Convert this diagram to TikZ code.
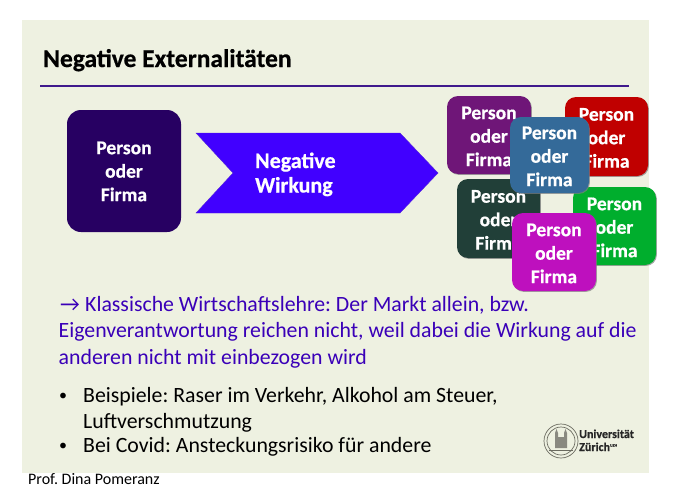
\documentclass[tikz,border=0pt]{standalone}
\usepackage{fontspec}
\setmainfont{Carlito}[BoldFeatures={FakeBold=0.6}]
\usetikzlibrary{shadows}
\definecolor{SlideBack}{HTML}{EEF1E1}
\definecolor{SlideRule}{HTML}{3F1A8C}
\definecolor{SlideText}{HTML}{3A00B8}
\definecolor{BoxNavy}{HTML}{270062}
\definecolor{BoxArrow}{HTML}{4100FF}
\definecolor{BoxPurple}{HTML}{6F1678}
\definecolor{BoxRed}{HTML}{C00000}
\definecolor{BoxBlue}{HTML}{346A99}
\definecolor{BoxDark}{HTML}{213F38}
\definecolor{BoxGreen}{HTML}{00AE2D}
\definecolor{BoxMagenta}{HTML}{BE10BE}
\definecolor{SealGray}{HTML}{6B6B60}
\newcommand{\personlabel}{\rule{0pt}{15.5pt}Person\\oder\\Firma}

\begin{document}
\frenchspacing
\begin{tikzpicture}[x=1pt,y=-1pt,
  font=\fontsize{21.8}{26.5}\selectfont,
  person/.style={text=white,font=\bfseries\fontsize{19.5}{23.5}\selectfont,
    rounded corners=11pt,align=center,inner sep=0pt},
  lifted/.style={person,drop shadow={shadow xshift=0.9pt,shadow yshift=-0.9pt,fill=gray,opacity=0.7}},
  bodytext/.style={anchor=base west,inner sep=0pt},
  bulletmark/.style={bodytext,font=\fontsize{16}{18}\selectfont},
  seal/.style={draw=SealGray,line width=0.7pt}]
  \path[use as bounding box] (0,0) rectangle (673,498);
  \fill[SlideBack] (22,20) rectangle (649,473);
  \node[bodytext,font=\bfseries\fontsize{25.5}{28}\selectfont] (title) at (43,67) {Negative Externalitäten};
  \draw[SlideRule,line width=1.2pt] (40,86)--(629,86);
  \node[person,fill=BoxNavy,rounded corners=14pt,minimum width=114pt,minimum height=122pt]
    (source) at (124,171) {\rule{0pt}{13.5pt}Person\\oder\\Firma};
  \fill[BoxArrow,draw=BoxArrow!70!gray,line width=0.4pt] (196,133)--(400,133)--(438,173)--(400,213)--(196,213)--(233,173)--cycle;
  \node[bodytext,text=white,font=\bfseries\fontsize{22}{26}\selectfont] (effectone) at (255,168) {Negative};
  \node[bodytext,text=white,font=\bfseries\fontsize{22}{26}\selectfont] (effecttwo) at (255,192.5) {Wirkung};
  \node[lifted,fill=BoxPurple,minimum width=84pt,minimum height=78pt] (purple) at (489,135) {\personlabel};
  \node[lifted,fill=BoxRed,minimum width=83pt,minimum height=79pt] (red) at (606.5,136.5) {\personlabel};
  \node[lifted,fill=BoxDark,minimum width=83pt,minimum height=79pt] (dark) at (498.5,218.5) {\personlabel};
  \node[lifted,fill=BoxGreen,minimum width=83pt,minimum height=78pt] (green) at (614.5,226) {\personlabel};
  \node[lifted,fill=BoxBlue,minimum width=79pt,minimum height=76pt] (blue) at (549.5,155) {\personlabel};
  \node[lifted,fill=BoxMagenta,minimum width=84pt,minimum height=78pt] (magenta) at (554,252) {\personlabel};
  % text block
  \node[bodytext,text=SlideText] (arrowmark) at (60,311) {→};
  \node[bodytext,text=SlideText] (lineone) at (85,311) {Klassische Wirtschaftslehre: Der Markt allein, bzw.};
  \node[bodytext,text=SlideText] (linetwo) at (58.5,337.5) {Eigenverantwortung reichen nicht, weil dabei die Wirkung auf die};
  \node[bodytext,text=SlideText] (linethree) at (58.5,364) {anderen nicht mit einbezogen wird};
  \node[bulletmark] (bulletone) at (59,400) {•};
  \node[bodytext] (examples) at (83,402) {Beispiele: Raser im Verkehr, Alkohol am Steuer,};
  \node[bodytext] (examplesrest) at (83,428) {Luftverschmutzung};
  \node[bulletmark] (bullettwo) at (59,450) {•};
  \node[bodytext] (covid) at (83,452) {Bei Covid: Ansteckungsrisiko für andere};
  % logo
  \draw[seal] (561,441) circle (17);
  \draw[seal] (561,441) circle (14);
  \fill[SealGray!80] (555,448)--(555,433)--(556.5,429)--(558,433)--(558,437)--(564,437)--(564,433)--(565.5,429)--(567,433)--(567,448)--cycle;
  \draw[seal] (549,450)--(573,450);
  \node[bodytext,text=black!85,font=\bfseries\fontsize{12}{13}\selectfont] (uniname) at (579,438) {Universität};
  \node[bodytext,text=black!85,font=\bfseries\fontsize{12}{13}\selectfont] (unicity) at (579,451)
    {Zürich\textsuperscript{\fontsize{4}{4}\selectfont UZH}};
  \node[bodytext,text=black,font=\fontsize{16}{18}\selectfont] (author) at (28,484) {Prof. Dina Pomeranz};
\end{tikzpicture}
\end{document}
